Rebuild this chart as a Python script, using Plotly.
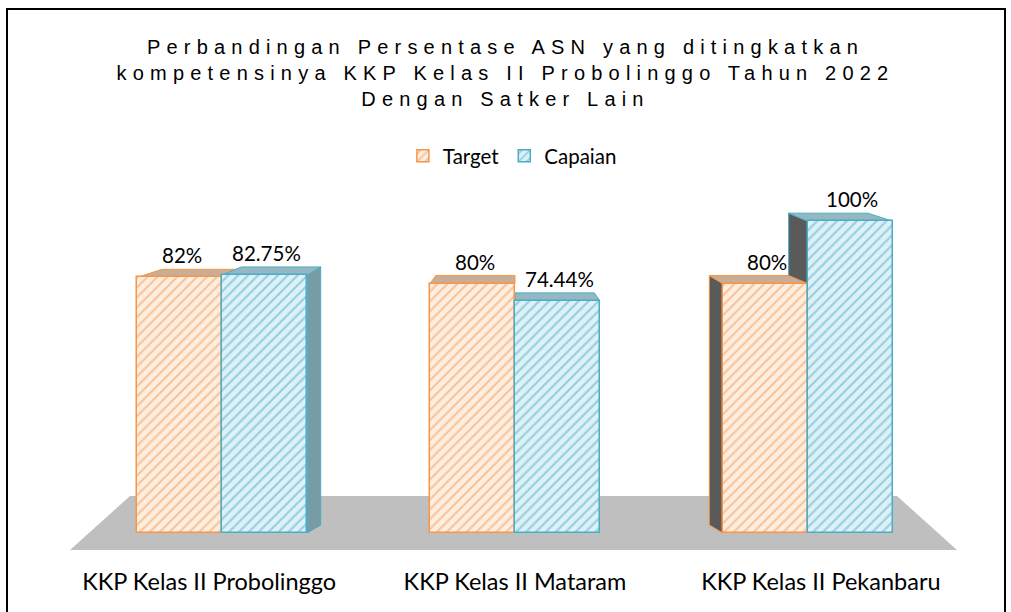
import plotly.graph_objects as go

# ---- data ----
categories = ["KKP Kelas II Probolinggo", "KKP Kelas II Mataram", "KKP Kelas II Pekanbaru"]
target = [82, 80, 80]
capaian = [82.75, 74.44, 100]
target_labels = ["82%", "80%", "80%"]
capaian_labels = ["82.75%", "74.44%", "100%"]
series_names = ["Target", "Capaian"]

title_lines = ["Perbandingan Persentase ASN yang ditingkatkan",
               "kompetensinya KKP Kelas II Probolinggo Tahun 2022",
               "Dengan Satker Lain"]

# ---- style ----
W, H = 1011, 612
ML, MR, MT, MB = 76, 57, 190, 79
ORANGE, ORANGE_BG = "#F79646", "#FDEEE2"
BLUE, BLUE_BG = "#4BACC6", "#DDF1F7"
FONT = "Lato"
BARGAP = 0.42
BW = (1 - BARGAP) / 2
YMAX = 110

xs = list(range(len(categories)))

fig = go.Figure()
fig.add_trace(go.Bar(
    x=[x - BW / 2 for x in xs], y=target, width=BW, name=series_names[0],
    marker=dict(color=ORANGE_BG, line=dict(color=ORANGE, width=1.5),
                pattern=dict(shape="/", fgcolor=ORANGE, bgcolor=ORANGE_BG, size=7, solidity=0.3)),
))
fig.add_trace(go.Bar(
    x=[x + BW / 2 for x in xs], y=capaian, width=BW, name=series_names[1],
    marker=dict(color=BLUE_BG, line=dict(color=BLUE, width=1.5),
                pattern=dict(shape="/", fgcolor=BLUE, bgcolor=BLUE_BG, size=7, solidity=0.3)),
))

# ---- pseudo-3D decoration derived from the data ----
plot_w = W - ML - MR
plot_h = H - MT - MB
px_per_y = plot_h / YMAX
K = 0.065           # perspective factor toward the centre
DY = 8 / px_per_y   # depth height in data units
center = (len(xs) - 1) / 2

shapes = []
def px2paper_x(p):
    return (p - ML) / plot_w
def px2paper_y(p):
    return (H - MB - p) / plot_h

floor_pts = [(70, 550), (957, 550), (897, 496), (130, 496)]
path = "M " + " L ".join(f"{px2paper_x(a):.4f},{px2paper_y(b):.4f}" for a, b in floor_pts) + " Z"
shapes.append(dict(type="path", xref="paper", yref="paper", path=path,
                   fillcolor="#BFBFBF", line=dict(width=0), layer="below"))

side_shapes, top_shapes = [], []
for vals, col, top_col, right_col in [(target, ORANGE, "#C9AD95", "#B0967F"),
                                      (capaian, BLUE, "#93B8C1", "#789CA5")]:
    off = -BW if vals is target else 0.0
    for i, v in zip(xs, vals):
        L, R = i + off, i + off + BW
        dxL, dxR = -K * (L - center), -K * (R - center)
        if dxR > 0.005:
            side_shapes.append(dict(type="path", xref="x", yref="y", layer="below",
                path=f"M {R},0 L {R},{v} L {R+dxR},{v+DY} L {R+dxR},{DY} Z",
                fillcolor=right_col, line=dict(color=col, width=1)))
        if dxL < -0.005:
            side_shapes.append(dict(type="path", xref="x", yref="y", layer="below",
                path=f"M {L},0 L {L},{v} L {L+dxL},{v+DY} L {L+dxL},{DY} Z",
                fillcolor="#5A5A5A", line=dict(color=col, width=1)))
        top_shapes.append(dict(type="path", xref="x", yref="y", layer="below",
            path=f"M {L},{v} L {R},{v} L {R+dxR},{v+DY} L {L+dxL},{v+DY} Z",
            fillcolor=top_col, line=dict(color=col, width=1)))

shapes += side_shapes + top_shapes

# outer border
shapes.append(dict(type="rect", xref="paper", yref="paper",
                   x0=px2paper_x(7), x1=px2paper_x(1005), y0=px2paper_y(613), y1=px2paper_y(9),
                   line=dict(color="#000000", width=2), fillcolor="rgba(0,0,0,0)", layer="above"))

annotations = []
for i, v, t in zip(xs, target, target_labels):
    annotations.append(dict(x=i - BW / 2, y=v, text=t, showarrow=False, yanchor="middle",
                            xshift=2, yshift=22, font=dict(family=FONT, size=20.5, color="#000")))
for i, v, t in zip(xs, capaian, capaian_labels):
    annotations.append(dict(x=i + BW / 2, y=v, text=t, showarrow=False, yanchor="middle",
                            xshift=2, yshift=22, font=dict(family=FONT, size=20.5, color="#000")))

# tick labels follow the perspective of the floor
tick_pos = [i + 0.045 * (i - center) for i in xs]

fig.update_layout(
    width=W, height=H,
    margin=dict(l=ML, r=MR, t=MT, b=MB, autoexpand=False),
    paper_bgcolor="white", plot_bgcolor="rgba(0,0,0,0)",
    barmode="overlay", bargap=0,
    shapes=shapes, annotations=annotations,
    title=dict(text="<br>".join(title_lines), x=0.5, xref="container", xanchor="center",
               y=1 - 54 / H, yref="container", yanchor="top",
               font=dict(family="Liberation Sans", size=20, color="#000")),
    legend=dict(orientation="h", x=0.497, xanchor="center", y=(H - MB - 156) / plot_h,
                yanchor="middle", font=dict(family=FONT, size=20.5, color="#000"),
                itemwidth=30, bgcolor="rgba(0,0,0,0)"),
    xaxis=dict(range=[-0.5, 2.5], tickvals=tick_pos, ticktext=categories, showgrid=False,
               zeroline=False, showline=False, ticks="", ticklabelstandoff=32,
               tickfont=dict(family=FONT, size=23.5, color="#000")),
    yaxis=dict(range=[0, YMAX], showgrid=False, zeroline=False, showline=False,
               showticklabels=False, ticks=""),
)

post = """
var s = document.createElement('style');
s.textContent = 'html, body { margin: 0 !important; padding: 0 !important; overflow: hidden; } .gtitle { letter-spacing: 6.2px; }';
document.head.appendChild(s);
"""
fig.write_html("out.html", post_script=post, config={"displayModeBar": False})
